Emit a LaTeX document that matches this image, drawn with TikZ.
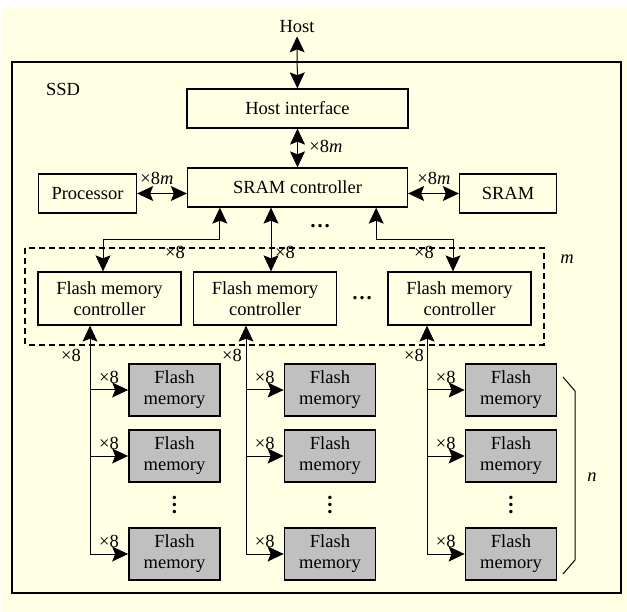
\documentclass[tikz,border=0pt]{standalone}
\usepackage{fontspec}
\setmainfont{Liberation Serif}
\newfontfamily\diagfont{Liberation Serif}
\usetikzlibrary{positioning,arrows.meta}

\definecolor{paper}{RGB}{255,255,227}
\definecolor{chipgray}{RGB}{192,192,192}

\tikzset{
  every node/.style={font=\diagfont\fontsize{18.5}{21}\selectfont, inner sep=0pt},
  block/.style={draw, line width=1.3pt, align=center, minimum height=39pt},
  ctrl/.style={block, minimum width=143pt, minimum height=53pt},
  chip/.style={block, fill=chipgray, line width=1.7pt, minimum width=91pt, minimum height=52pt},
  ellip/.style={font=\diagfont\bfseries\fontsize{21}{21}\selectfont},
  link/.style={line width=1pt, {Stealth[length=16pt,width=15pt,inset=3pt]}-{Stealth[length=16pt,width=15pt,inset=3pt]}},
  feed/.style={line width=1pt, -{Stealth[length=16pt,width=15pt,inset=3pt]}},
  group/.style={line width=2pt, dash pattern=on 6pt off 4pt},
}

\begin{document}
\begin{tikzpicture}[x=1pt, y=-1pt]
  \useasboundingbox (0,0) rectangle (627,612);
  \fill[paper] (1,8) rectangle (627,612);
  \draw[line width=1.3pt] (12,62) rectangle (621,593);
  \node (ssd) at (63,89) {SSD};

  % host side
  \node (host) at (297,27) {Host};
  \node[block, minimum width=221pt] (hif) at (297.5,108.5) {Host interface};
  \node[block, minimum width=220pt, below of=hif, node distance=79pt] (sramc) {SRAM controller};
  \node[block, minimum width=98pt, left of=sramc, node distance=210pt, yshift=-6pt] (proc) {Processor};
  \node[block, minimum width=97pt, right of=sramc, node distance=210.5pt, yshift=-6pt] (sram) {SRAM};
  \node[ellip] (cdots) at (320,226) {…};

  \draw[link, shorten <=3pt] (host) -- (hif);
  \draw[link] (hif.south) -- (hif.south |- sramc.north);
  \draw[link] (proc.east) -- (proc.east -| sramc.west);
  \draw[link] (sram.west) -- (sram.west -| sramc.east);
  \node (wh) at (326,146) {×8\textit{m}};
  \node (wp) at (157,178) {×8\textit{m}};
  \node (ws) at (434,178) {×8\textit{m}};

  % controllers
  \node[ctrl] (fmc1) at (109.5,298.5) {Flash memory\\controller};
  \node[ctrl, right of=fmc1, node distance=155.5pt] (fmc2) {Flash memory\\controller};
  \node[ctrl, right of=fmc2, node distance=194.5pt] (fmc3) {Flash memory\\controller};
  \node[ellip, right of=fmc2, node distance=97pt] (fdots) {…};
  \draw[group] ([shift={(-12pt,23pt)}]fmc1.north west) rectangle ([shift={(12pt,-19pt)}]fmc3.south east);
  \node (mlab) at (567,259) {\textit{m}};

  \draw[link] ([xshift=33pt]sramc.south west) -- ++(0,32) -| ([xshift=-6.5pt]fmc1.north);
  \draw[link] ([xshift=6pt]fmc2.north |- sramc.south) -- ([xshift=6pt]fmc2.north);
  \draw[link] ([xshift=-32pt]sramc.south east) -- ++(0,32) -| ([xshift=-6.5pt]fmc3.north);
  \node (wc1) at (175,252) {×8};
  \node (wc2) at (285,252) {×8};
  \node (wc3) at (424,252) {×8};

  % flash chips, column 1
  \node[chip] (c1r1) at (174.5,390) {Flash\\memory};
  \node[chip, below of=c1r1, node distance=66pt] (c1r2) {Flash\\memory};
  \node[ellip, below of=c1r2, node distance=49pt] (c1dots) {\rotatebox{90}{…}};
  \node[chip, below of=c1r2, node distance=98pt] (c1rn) {Flash\\memory};
  % column 2
  \node[chip, right of=c1r1, node distance=155.5pt] (c2r1) {Flash\\memory};
  \node[chip, below of=c2r1, node distance=66pt] (c2r2) {Flash\\memory};
  \node[ellip, below of=c2r2, node distance=49pt] (c2dots) {\rotatebox{90}{…}};
  \node[chip, below of=c2r2, node distance=98pt] (c2rn) {Flash\\memory};
  % column 3
  \node[chip, right of=c2r1, node distance=181pt] (c3r1) {Flash\\memory};
  \node[chip, below of=c3r1, node distance=66pt] (c3r2) {Flash\\memory};
  \node[ellip, below of=c3r2, node distance=49pt] (c3dots) {\rotatebox{90}{…}};
  \node[chip, below of=c3r2, node distance=98pt] (c3rn) {Flash\\memory};

  % buses
  \coordinate (bus1) at ([xshift=-19.5pt]fmc1.south);
  \coordinate (bus2) at ([xshift=-19pt]fmc2.south);
  \coordinate (bus3) at ([xshift=-32.5pt]fmc3.south);
  \draw[feed] (bus1 |- c1rn.west) -- (bus1);
  \draw[feed] (bus2 |- c2rn.west) -- (bus2);
  \draw[feed] (bus3 |- c3rn.west) -- (bus3);
  \node (wb1) at (71,355) {×8};
  \node (wb2) at (232,355) {×8};
  \node (wb3) at (414,355) {×8};

  \draw[feed] (bus1 |- c1r1.west) -- node[above=6pt] (w11) {×8} (c1r1.west);
  \draw[feed] (bus1 |- c1r2.west) -- node[above=6pt] (w12) {×8} (c1r2.west);
  \draw[feed] (bus1 |- c1rn.west) -- node[above=6pt] (w1n) {×8} (c1rn.west);
  \draw[feed] (bus2 |- c2r1.west) -- node[above=6pt] (w21) {×8} (c2r1.west);
  \draw[feed] (bus2 |- c2r2.west) -- node[above=6pt] (w22) {×8} (c2r2.west);
  \draw[feed] (bus2 |- c2rn.west) -- node[above=6pt] (w2n) {×8} (c2rn.west);
  \draw[feed] (bus3 |- c3r1.west) -- node[above=6pt] (w31) {×8} (c3r1.west);
  \draw[feed] (bus3 |- c3r2.west) -- node[above=6pt] (w32) {×8} (c3r2.west);
  \draw[feed] (bus3 |- c3rn.west) -- node[above=6pt] (w3n) {×8} (c3rn.west);

  % n bracket
  \draw[line width=1pt] (563,377) -- (575,391) -- (575,560) -- (563,574);
  \node (nlab) at (592,477) {\textit{n}};
\end{tikzpicture}
\end{document}
